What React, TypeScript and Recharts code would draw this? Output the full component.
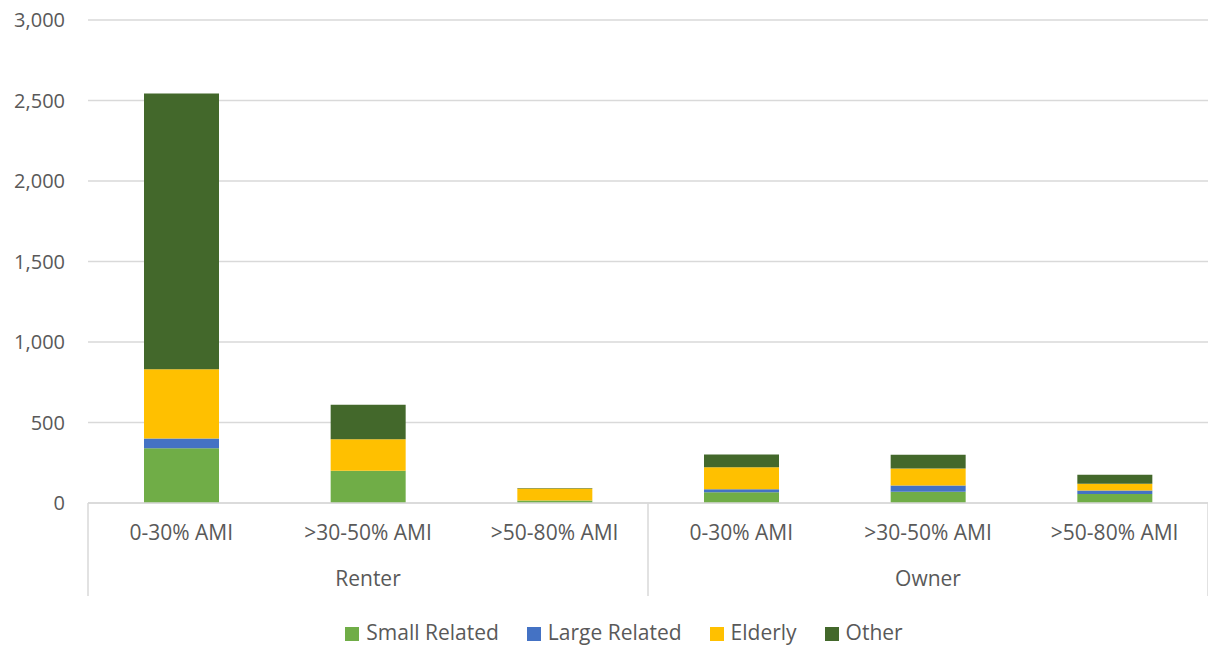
import { BarChart, Bar, XAxis, YAxis, CartesianGrid, Legend } from 'recharts';

const ranges = ['0-30% AMI', '>30-50% AMI', '>50-80% AMI', '0-30% AMI', '>30-50% AMI', '>50-80% AMI'];
const tenure = ['Renter', 'Renter', 'Renter', 'Owner', 'Owner', 'Owner'];
const seriesNames = ['Small Related', 'Large Related', 'Elderly', 'Other'];
const smallRelated = [340, 200, 15, 66, 70, 56];
const largeRelated = [60, 0, 0, 19, 39, 22];
const elderly = [430, 196, 75, 137, 106, 42];
const other = [1714, 215, 3, 80, 85, 56];
const yTicks = [0, 500, 1000, 1500, 2000, 2500, 3000];

const data = ranges.map((range, i) => ({
  key: `${tenure[i]}-${range}`,
  range,
  tenure: tenure[i],
  small: smallRelated[i],
  large: largeRelated[i],
  elderly: elderly[i],
  other: other[i],
}));

const TEXT = '#595959';
const GRID = '#d9d9d9';
const FONT = '"Open Sans", sans-serif';
const BAND = 1120 / ranges.length;

const RangeTick = (props: any) => {
  const { x, y, payload } = props;
  return (
    <text x={x} y={y} dy="0.71em" textAnchor="middle" fill={TEXT} fontSize={21} fontFamily={FONT}>
      {ranges[payload.index]}
    </text>
  );
};

const GroupTick = (props: any) => {
  const { x, y, index } = props;
  const name = tenure[index];
  const firstOfGroup = index === 0 || tenure[index - 1] !== name;
  const middle = index === 1 || index === 4;
  return (
    <g>
      {firstOfGroup && (
        <line x1={x - BAND / 2} x2={x - BAND / 2} y1={y - 40} y2={y + 53} stroke={GRID} strokeWidth={1.5} />
      )}
      {index === ranges.length - 1 && (
        <line x1={x + BAND / 2} x2={x + BAND / 2} y1={y - 40} y2={y + 53} stroke={GRID} strokeWidth={1.5} />
      )}
      {middle && (
        <text x={x} y={y + 28} dy="0.71em" textAnchor="middle" fill={TEXT} fontSize={21} fontFamily={FONT}>
          {name}
        </text>
      )}
    </g>
  );
};

export default function App() {
  return (
    <div style={{ position: 'fixed', top: 0, left: 0, background: '#fff' }}>
      <BarChart
        width={1208}
        height={648}
        data={data}
        margin={{ top: 20, right: 0, left: 0, bottom: 2 }}
        style={{ fontFamily: FONT }}
      >
        <CartesianGrid vertical={false} stroke={GRID} strokeWidth={1.5} />
        <XAxis
          dataKey="key"
          xAxisId={0}
          height={40}
          tickLine={false}
          tickSize={0}
          tickMargin={22}
          axisLine={{ stroke: GRID, strokeWidth: 1.5 }}
          tick={<RangeTick />}
          interval={0}
        />
        <XAxis
          dataKey="key"
          xAxisId={1}
          height={75}
          axisLine={false}
          tickLine={false}
          tickSize={0}
          tickMargin={0}
          tick={<GroupTick />}
          interval={0}
        />
        <YAxis
          width={88}
          domain={[0, 3000]}
          ticks={yTicks}
          axisLine={false}
          tickLine={false}
          tickSize={0}
          tickMargin={23}
          tick={{ fill: TEXT, fontSize: 20, fontFamily: FONT }}
          tickFormatter={(v: number) => v.toLocaleString('en-US')}
        />
        <Legend
          iconType="square"
          iconSize={14}
          itemSorter={(item: any) => seriesNames.indexOf(item.value)}
          wrapperStyle={{ fontSize: 21, fontFamily: FONT, paddingLeft: 34 }}
          formatter={(value: string) => <span style={{ color: TEXT, marginRight: 18, marginLeft: 3 }}>{value}</span>}
        />
        <Bar dataKey="small" name="Small Related" stackId="a" fill="#70AD47" barSize={75} isAnimationActive={false} />
        <Bar dataKey="large" name="Large Related" stackId="a" fill="#4472C4" barSize={75} isAnimationActive={false} />
        <Bar dataKey="elderly" name="Elderly" stackId="a" fill="#FFC000" barSize={75} isAnimationActive={false} />
        <Bar dataKey="other" name="Other" stackId="a" fill="#43682B" barSize={75} isAnimationActive={false} />
      </BarChart>
    </div>
  );
}
